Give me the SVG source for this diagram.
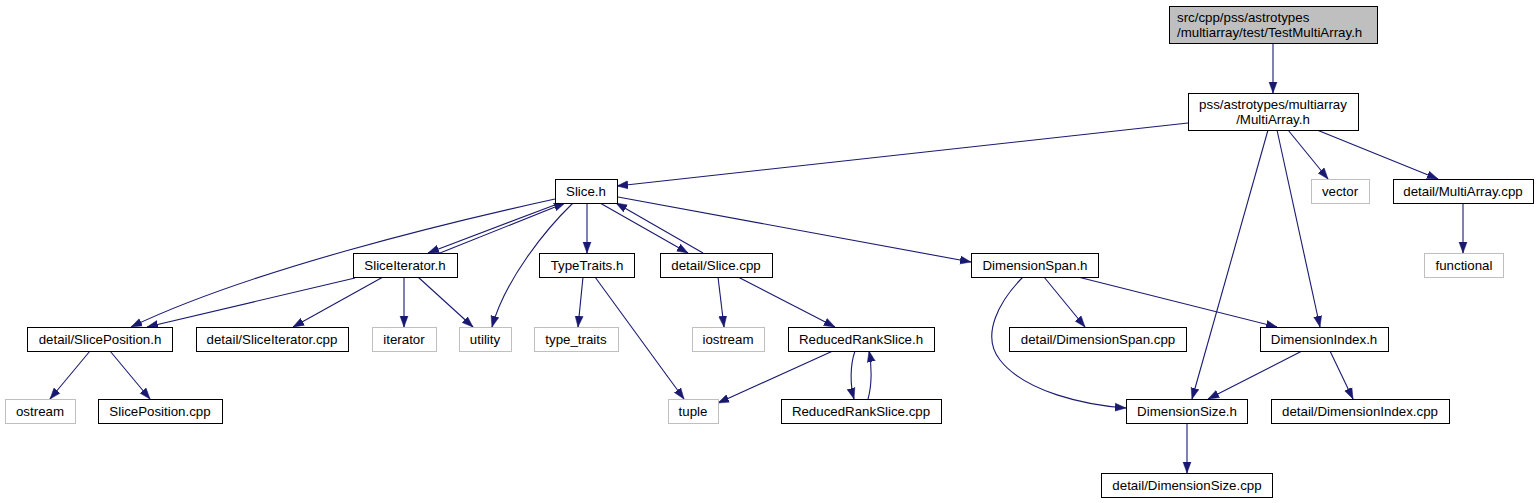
<svg xmlns="http://www.w3.org/2000/svg" width="1540" height="503" viewBox="0 0 1540 503">
<defs>
<style>
.n rect{fill:#fff;stroke:#000;stroke-width:1}
.g rect{fill:#fff;stroke:#bfbfbf;stroke-width:1}
.m rect{fill:#bfbfbf;stroke:#000;stroke-width:1}
text{font-family:"Liberation Sans",Arial,Helvetica,sans-serif;font-size:13.3px;fill:#000;text-anchor:middle}
.e path{fill:none;stroke:#191970;stroke-width:1.1;marker-end:url(#ah)}
</style>
<marker id="ah" markerUnits="userSpaceOnUse" markerWidth="12" markerHeight="10" refX="11" refY="4" orient="auto" viewBox="0 0 12 8">
<path d="M0,0 L11,4 L0,8 z" fill="#191970" stroke="#191970" stroke-width="0.5"/>
</marker>
</defs>
<rect width="1540" height="503" fill="#fff"/>
<g class="e" id="edges">
<path d="M1273,43 L1273,93"/>
<path d="M1188,123 L617,186"/>
<path d="M1288,130 L1328,179"/>
<path d="M1317,130 L1438,179"/>
<path d="M1268,130 L1192,399"/>
<path d="M1277,130 L1320,327"/>
<path d="M1463,203 L1463,253"/>
<path d="M560,203 L428,253"/>
<path d="M440,253 L565,203"/>
<path d="M555,199 C450,222 250,270 131,327"/>
<path d="M355,278 L147,327"/>
<path d="M383,277 L293,327"/>
<path d="M404,277 L404,327"/>
<path d="M418,277 L473,327"/>
<path d="M573,203 C545,230 505,280 492,327"/>
<path d="M90,351 L50,399"/>
<path d="M110,351 L150,399"/>
<path d="M587,203 L587,253"/>
<path d="M600,203 L688,253"/>
<path d="M703,253 L616,203"/>
<path d="M618,197 L971,262"/>
<path d="M583,277 L578,327"/>
<path d="M595,277 L684,399"/>
<path d="M718,277 L724,327"/>
<path d="M738,277 L835,327"/>
<path d="M835,350 L718,403"/>
<path d="M855,351 C850,365 850,385 854,399"/>
<path d="M868,399 C872,385 872,365 869,351"/>
<path d="M1044,277 L1085,327"/>
<path d="M1078,277 L1277,327"/>
<path d="M1023,277 C1000,300 980,335 1000,360 C1025,392 1085,405 1126,408"/>
<path d="M1302,351 L1208,399"/>
<path d="M1330,351 L1353,399"/>
<path d="M1187,423 L1187,473"/>
</g>
<g id="n0" class="m"><rect x="1169.5" y="6.5" width="208" height="37"/><text x="1177" y="21.5" style="text-anchor:start">src/cpp/pss/astrotypes</text><text x="1177" y="36.5" style="text-anchor:start">/multiarray/test/TestMultiArray.h</text></g>
<g id="n1" class="n"><rect x="1188.5" y="93.5" width="170" height="37"/><text x="1273" y="108.5">pss/astrotypes/multiarray</text><text x="1273" y="123.5">/MultiArray.h</text></g>
<g id="n2" class="n"><rect x="555.5" y="179.5" width="62" height="24"/><text x="586" y="196">Slice.h</text></g>
<g id="n3" class="g"><rect x="1311.5" y="179.5" width="58" height="24"/><text x="1340" y="196">vector</text></g>
<g id="n4" class="n"><rect x="1393.5" y="179.5" width="140" height="24"/><text x="1463" y="196">detail/MultiArray.cpp</text></g>
<g id="n5" class="g"><rect x="1424.5" y="253.5" width="79" height="24"/><text x="1464" y="270">functional</text></g>
<g id="n6" class="n"><rect x="353.5" y="253.5" width="104" height="24"/><text x="405" y="270">SliceIterator.h</text></g>
<g id="n7" class="n"><rect x="539.5" y="253.5" width="95" height="24"/><text x="587" y="270">TypeTraits.h</text></g>
<g id="n8" class="n"><rect x="660.5" y="253.5" width="112" height="24"/><text x="716" y="270">detail/Slice.cpp</text></g>
<g id="n9" class="n"><rect x="971.5" y="253.5" width="127" height="24"/><text x="1035" y="270">DimensionSpan.h</text></g>
<g id="n10" class="n"><rect x="27.5" y="327.5" width="145" height="24"/><text x="100" y="344">detail/SlicePosition.h</text></g>
<g id="n11" class="n"><rect x="196.5" y="327.5" width="152" height="24"/><text x="272" y="344">detail/SliceIterator.cpp</text></g>
<g id="n12" class="g"><rect x="372.5" y="327.5" width="64" height="24"/><text x="404" y="344">iterator</text></g>
<g id="n13" class="g"><rect x="459.5" y="327.5" width="52" height="24"/><text x="485" y="344">utility</text></g>
<g id="n14" class="g"><rect x="534.5" y="327.5" width="84" height="24"/><text x="576" y="344">type_traits</text></g>
<g id="n15" class="g"><rect x="692.5" y="327.5" width="72" height="24"/><text x="728" y="344">iostream</text></g>
<g id="n16" class="n"><rect x="788.5" y="327.5" width="146" height="24"/><text x="861" y="344">ReducedRankSlice.h</text></g>
<g id="n17" class="n"><rect x="1009.5" y="327.5" width="177" height="24"/><text x="1098" y="344">detail/DimensionSpan.cpp</text></g>
<g id="n18" class="n"><rect x="1260.5" y="327.5" width="128" height="24"/><text x="1324" y="344">DimensionIndex.h</text></g>
<g id="n19" class="g"><rect x="5.5" y="399.5" width="70" height="24"/><text x="40" y="416">ostream</text></g>
<g id="n20" class="n"><rect x="98.5" y="399.5" width="124" height="24"/><text x="160" y="416">SlicePosition.cpp</text></g>
<g id="n21" class="g"><rect x="668.5" y="399.5" width="50" height="24"/><text x="693" y="416">tuple</text></g>
<g id="n22" class="n"><rect x="781.5" y="399.5" width="160" height="24"/><text x="861" y="416">ReducedRankSlice.cpp</text></g>
<g id="n23" class="n"><rect x="1126.5" y="399.5" width="121" height="24"/><text x="1187" y="416">DimensionSize.h</text></g>
<g id="n24" class="n"><rect x="1271.5" y="399.5" width="178" height="24"/><text x="1360" y="416">detail/DimensionIndex.cpp</text></g>
<g id="n25" class="n"><rect x="1101.5" y="473.5" width="171" height="24"/><text x="1187" y="490">detail/DimensionSize.cpp</text></g>
</svg>
